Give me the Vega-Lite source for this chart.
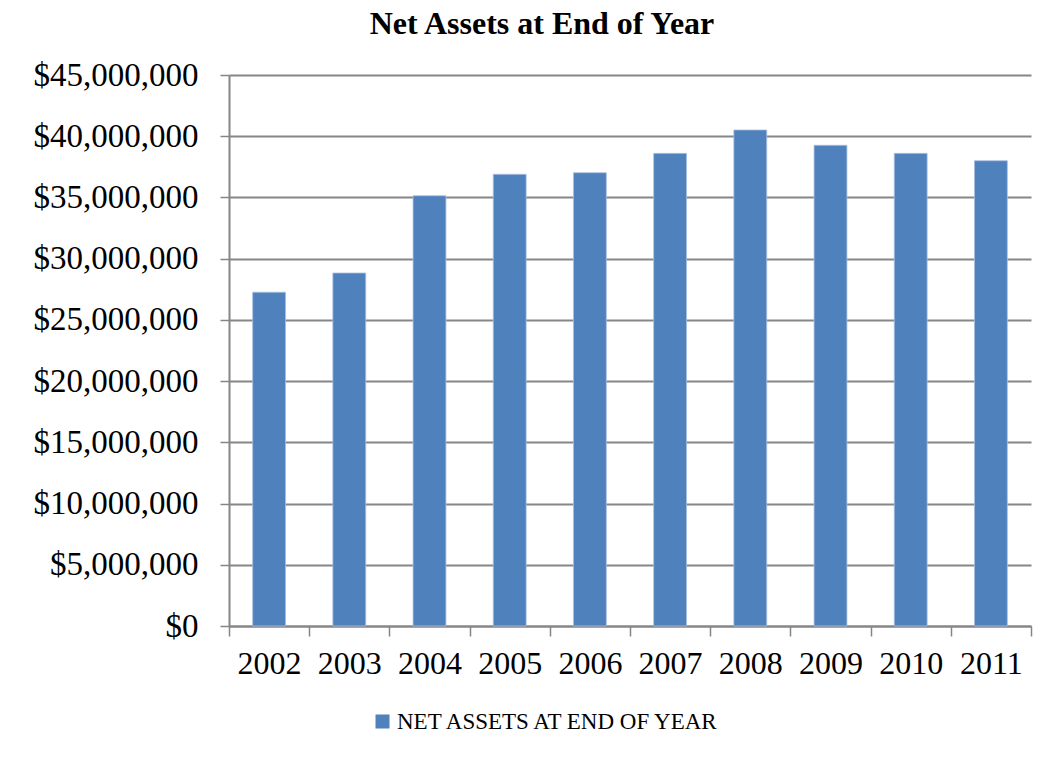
{
  "$schema": "https://vega.github.io/schema/vega-lite/v6.json",
  "width": 802,
  "height": 551,
  "autosize": {"type": "none"},
  "padding": {"left": 229, "top": 75, "right": 20, "bottom": 137},
  "background": "white",
  "title": {
    "text": "Net Assets at End of Year",
    "font": "Liberation Serif",
    "fontSize": 32,
    "fontWeight": "bold",
    "color": "black",
    "anchor": "middle",
    "dx": -88,
    "offset": 18
  },
  "data": {
    "values": [
      {"year": "2002", "value": 27260000},
      {"year": "2003", "value": 28830000},
      {"year": "2004", "value": 35140000},
      {"year": "2005", "value": 36890000},
      {"year": "2006", "value": 37020000},
      {"year": "2007", "value": 38600000},
      {"year": "2008", "value": 40510000},
      {"year": "2009", "value": 39260000},
      {"year": "2010", "value": 38600000},
      {"year": "2011", "value": 38000000}
    ]
  },
  "mark": {"type": "bar", "width": {"band": 0.41}, "stroke": "#a9c0e0", "strokeWidth": 0.8},
  "encoding": {
    "x": {
      "field": "year",
      "type": "ordinal",
      "title": null,
      "scale": {"paddingInner": 0, "paddingOuter": 0},
      "axis": {
        "labelAngle": 0,
        "labelFont": "Liberation Serif",
        "labelFontSize": 32,
        "labelColor": "black",
        "labelPadding": 12,
        "tickBand": "extent",
        "tickSize": 10,
        "tickColor": "#868686",
        "tickWidth": 1.5,
        "domainColor": "#868686",
        "domainWidth": 2,
        "grid": false
      }
    },
    "y": {
      "field": "value",
      "type": "quantitative",
      "title": null,
      "scale": {"domain": [0, 45000000]},
      "axis": {
        "values": [0, 5000000, 10000000, 15000000, 20000000, 25000000, 30000000, 35000000, 40000000, 45000000],
        "format": "$,.0f",
        "labelFont": "Liberation Serif",
        "labelFontSize": 33,
        "labelColor": "black",
        "labelPadding": 22,
        "tickSize": 9,
        "tickColor": "#868686",
        "tickWidth": 1.5,
        "domainColor": "#868686",
        "domainWidth": 2,
        "grid": true,
        "gridColor": "#868686",
        "gridWidth": 2
      }
    },
    "color": {
      "datum": "NET ASSETS AT END OF YEAR",
      "type": "nominal",
      "scale": {"range": ["#4F81BD"]},
      "legend": {
        "title": null,
        "orient": "none",
        "legendX": 142,
        "legendY": 635,
        "symbolType": "square",
        "symbolSize": 196,
        "symbolStrokeWidth": 0,
        "labelFont": "Liberation Serif",
        "labelFontSize": 23,
        "labelColor": "black",
        "labelOffset": 3,
        "labelLimit": 500
      }
    }
  },
  "config": {
    "view": {"stroke": null}
  }
}
